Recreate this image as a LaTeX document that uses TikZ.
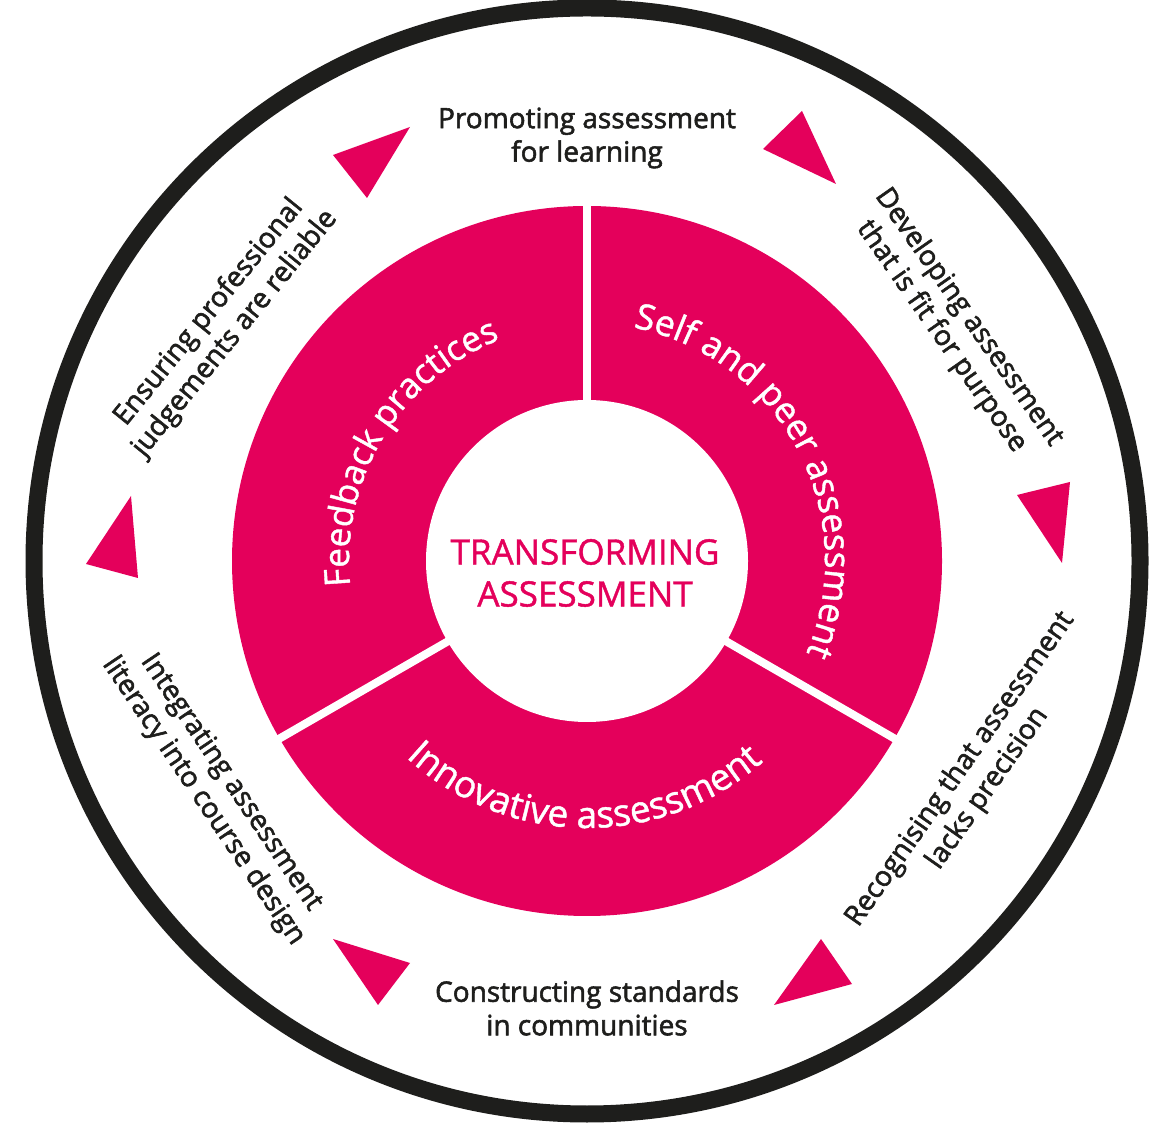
\documentclass[tikz,border=0pt]{standalone}
\usepackage{fontspec}
\setmainfont{Open Sans}
\newfontfamily\lblfont{Open Sans}[FakeBold=2]
\newfontfamily\midfont{Open Sans}[FakeBold=1.2]
\usetikzlibrary{decorations.text}
\definecolor{brand}{RGB}{228,0,91}
\definecolor{ink}{RGB}{30,30,28}
\begin{document}
\begin{tikzpicture}[x=1pt,y=1pt,
  outerlabel/.style={font=\lblfont\fontsize{28}{33.5}\selectfont, text=ink, align=center, inner sep=0pt},
  marker/.style={fill=brand},
  arctext/.style={decorate, decoration={text along path, text align=center, text color=white}}
]
\begin{scope}[shift={(587,561)}]
\useasboundingbox (-587,-565) rectangle (568,561);
% outer ring
\draw[ink, line width=17] (0,0) circle[radius=553];
% magenta ring
\fill[brand] (0,0) circle[radius=355];
\fill[white] (0,0) circle[radius=161];
\foreach \a in {90,210,330} \draw[white, line width=8] (\a:150) -- (\a:362);
% curved segment titles
\path[arctext, decoration={text={|\midfont\fontsize{35}{35}\selectfont|Feedback practices}}]
  (200:238) arc[start angle=200, end angle=97.4, radius=238];
\path[arctext, decoration={text={|\midfont\fontsize{35.5}{35.5}\selectfont|Self and peer assessment}}]
  (88:238) arc[start angle=88, end angle=-32, radius=238];
\path[arctext, decoration={text={|\midfont\fontsize{37}{37}\selectfont|Innovative assessment}}]
  (214:267) arc[start angle=214, end angle=324.6, radius=267];
% centre title
\node[text=brand, font=\midfont\fontsize{35}{42}\selectfont, align=center, inner sep=0pt] (title) at (-2,-12) {TRANSFORMING\\ASSESSMENT};
% outer labels
\node[outerlabel] (promo) at (0,423) {Promoting assessment\\for learning};
\node[outerlabel, rotate=-55] (devel) at (368,234) {Developing assessment\\that is fit for purpose};
\node[outerlabel, rotate=55] (recog) at (387,-218) {Recognising that assessment\\lacks precision};
\node[outerlabel] (constr) at (0,-447) {Constructing standards\\in communities};
\node[outerlabel, rotate=-56] (integ) at (-370,-231) {Integrating assessment\\literacy into course design};
\node[outerlabel, rotate=51] (ensur) at (-365,238) {Ensuring professional\\judgements are reliable};
% direction markers
\fill[marker] (-254,406) -- (-177,434) -- (-220,363) -- cycle;
\fill[marker] (176,412) -- (215,450) -- (249,377) -- cycle;
\fill[marker] (430,66) -- (483,79) -- (475,-2) -- cycle;
\fill[marker] (234,-378) -- (265,-423) -- (187,-444) -- cycle;
\fill[marker] (-254,-378) -- (-177,-402) -- (-209,-444) -- cycle;
\fill[marker] (-456,65) -- (-501,-3) -- (-449,-17) -- cycle;
\end{scope}
\end{tikzpicture}
\end{document}
